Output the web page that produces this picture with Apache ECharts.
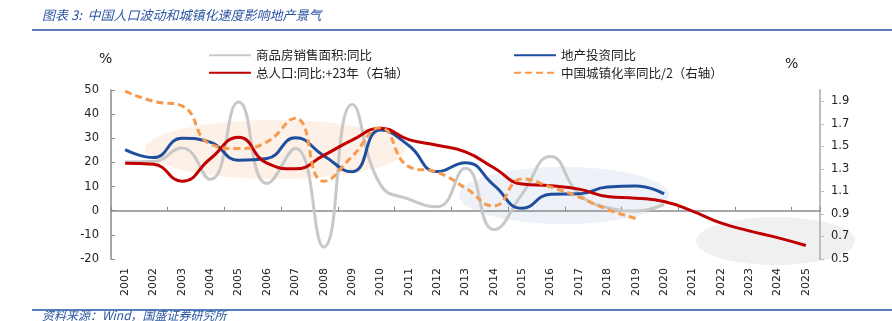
<!DOCTYPE html>
<html>
<head>
<meta charset="utf-8">
<script src="https://cdn.jsdelivr.net/npm/echarts@6/dist/echarts.min.js"></script>
<style>
html,body{margin:0;padding:0;background:#fff;}
#c{width:892px;height:321px;}
</style>
</head>
<body>
<div id="c"></div>
<script>
// ---- data ----
const years = ['2001','2002','2003','2004','2005','2006','2007','2008','2009','2010','2011','2012','2013','2014','2015','2016','2017','2018','2019','2020','2021','2022','2023','2024','2025'];
const salesAreaYoY = [20.2, 20.4, 26.0, 13.0, 45.0, 11.3, 25.8, -15.0, 44.0, 10.8, 4.8, 1.6, 17.6, -7.8, 7.0, 22.5, 7.0, 1.3, -0.1, 2.6];
const investYoY = [25.3, 22.0, 30.0, 28.4, 20.9, 21.6, 30.2, 22.8, 16.1, 33.4, 27.0, 16.2, 19.9, 10.6, 1.0, 6.8, 7.0, 9.8, 10.2, 7.0];
const populationYoY = [1.35, 1.34, 1.19, 1.39, 1.58, 1.35, 1.30, 1.42, 1.555, 1.66, 1.56, 1.51, 1.45, 1.31, 1.165, 1.15, 1.12, 1.055, 1.04, 1.01, 0.925, 0.82, 0.75, 0.69, 0.62];
const urbanYoYHalf = [1.99, 1.90, 1.86, 1.52, 1.48, 1.54, 1.75, 1.19, 1.41, 1.665, 1.32, 1.27, 1.13, 0.97, 1.21, 1.14, 1.05, 0.94, 0.86];
const leftTicks = {min: -20, max: 50, interval: 10};
const rightTicks = {min: 0.5, max: 2.0, interval: 0.2};
const names = ['商品房销售面积:同比', '地产投资同比', '总人口:同比:+23年（右轴）', '中国城镇化率同比/2（右轴）'];

const chart = echarts.init(document.getElementById('c'), null, {renderer: 'canvas'});
const numFont = 'DejaVu Sans';
const cjk = '"Noto Sans CJK SC", "Noto Sans", sans-serif';
const legendCommon = {orient: 'vertical', top: 44, itemWidth: 42, itemHeight: 14, itemGap: 5,
  itemStyle: {opacity: 0}, textStyle: {fontFamily: cjk, fontSize: 12.5, color: '#222'}};

chart.setOption({
  animation: false,
  backgroundColor: '#ffffff',
  grid: {left: 111, right: 72, top: 90, bottom: 62, containLabel: false},
  legend: [
    Object.assign({data: [names[0], names[2]], left: 203}, legendCommon),
    Object.assign({data: [names[1], names[3]], left: 508}, legendCommon)
  ],
  xAxis: [
    {type: 'category', data: years, gridIndex: 0,
     axisLine: {onZero: true, onZeroAxisIndex: 0, lineStyle: {color: '#8a8a8a', width: 1.5}},
     axisTick: {show: true, inside: true, length: 4, lineStyle: {color: '#8a8a8a', width: 1}},
     axisLabel: {show: false}, splitLine: {show: false}},
    {type: 'category', data: years, gridIndex: 0, position: 'bottom',
     axisLine: {show: false, onZero: false}, axisTick: {show: false},
     axisLabel: {rotate: 90, margin: 9, fontFamily: numFont, fontSize: 11, color: '#222'}, splitLine: {show: false}}
  ],
  yAxis: [
    {type: 'value', min: leftTicks.min, max: leftTicks.max, interval: leftTicks.interval, position: 'left',
     axisLine: {show: true, lineStyle: {color: '#8a8a8a', width: 1.5}},
     axisTick: {show: true, inside: true, length: 4, lineStyle: {color: '#8a8a8a'}},
     axisLabel: {fontFamily: numFont, fontSize: 11.5, color: '#222', margin: 12},
     splitLine: {show: false}},
    {type: 'value', min: rightTicks.min, max: rightTicks.max, interval: rightTicks.interval, position: 'right',
     axisLine: {show: true, lineStyle: {color: '#bdbdbd', width: 2}},
     axisTick: {show: true, inside: false, length: 4, lineStyle: {color: '#bdbdbd', width: 1}},
     axisLabel: {fontFamily: numFont, fontSize: 11.5, color: '#222', margin: 11, showMaxLabel: false,
       formatter: v => v.toFixed(1)},
     splitLine: {show: false}}
  ],
  graphic: [
    {type: 'ellipse', z: -10, shape: {cx: 275, cy: 149.5, rx: 130, ry: 29.5}, style: {fill: '#fcf0e7'}, silent: true},
    {type: 'ellipse', z: -10, shape: {cx: 564, cy: 195.5, rx: 105, ry: 28.5}, style: {fill: '#eef2f8'}, silent: true},
    {type: 'ellipse', z: -10, shape: {cx: 775.5, cy: 241, rx: 79.5, ry: 24}, style: {fill: '#f0f0f0'}, silent: true},
    {type: 'text', left: 42, top: 9, style: {text: '图表 3:  中国人口波动和城镇化速度影响地产景气', font: 'italic 13px ' + cjk, fill: '#2b55a3'}},
    {type: 'line', shape: {x1: 32, y1: 30, x2: 892, y2: 30}, style: {stroke: '#2b55a3', lineWidth: 1.5}},
    {type: 'text', left: 99, top: 52, style: {text: '%', font: '14px ' + numFont, fill: '#222'}},
    {type: 'text', left: 785, top: 57, style: {text: '%', font: '14px ' + numFont, fill: '#222'}},
    {type: 'line', shape: {x1: 32, y1: 310, x2: 892, y2: 310}, style: {stroke: '#5a7fbf', lineWidth: 2}},
    {type: 'text', left: 42, top: 309, style: {text: '资料来源：Wind，国盛证券研究所', font: 'italic 12px ' + cjk, fill: '#2b55a3'}}
  ],
  series: [
    {name: names[0], type: 'line', xAxisIndex: 0, yAxisIndex: 0, data: salesAreaYoY, smooth: true, symbol: 'none',
     lineStyle: {color: '#c8c8c8', width: 3}, itemStyle: {color: '#c8c8c8'}},
    {name: names[1], type: 'line', xAxisIndex: 0, yAxisIndex: 0, data: investYoY, smooth: true, symbol: 'none',
     lineStyle: {color: '#1f4e9e', width: 3}, itemStyle: {color: '#1f4e9e'}},
    {name: names[2], type: 'line', xAxisIndex: 0, yAxisIndex: 1, data: populationYoY, smooth: true, symbol: 'none',
     lineStyle: {color: '#c00000', width: 3}, itemStyle: {color: '#c00000'}},
    {name: names[3], type: 'line', xAxisIndex: 0, yAxisIndex: 1, data: urbanYoYHalf, smooth: true, symbol: 'none',
     lineStyle: {color: '#f79a4e', width: 3, type: [7, 4]}, itemStyle: {color: '#f79a4e'}}
  ]
});
</script>
</body>
</html>
